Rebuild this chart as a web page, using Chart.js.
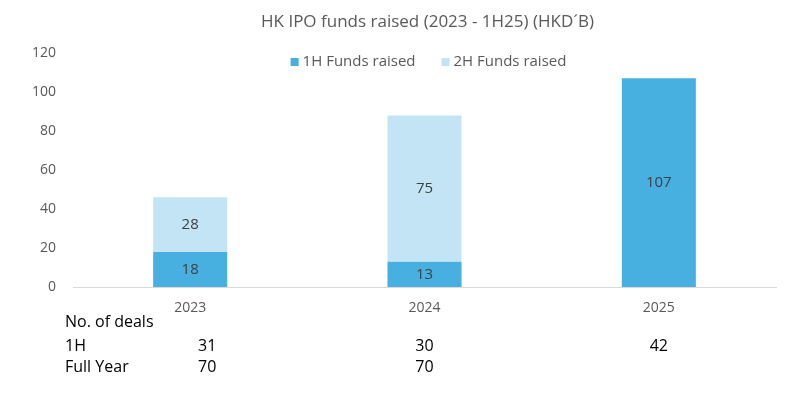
<!DOCTYPE html>
<html lang="en">
<head>
    <meta charset="UTF-8">
    <title>HK IPO funds raised</title>
    <script src="https://cdn.jsdelivr.net/npm/chart.js"></script>
    <style>
        body { margin: 0; background: #fff; }
        #wrap { width: 812px; height: 395px; position: relative; }
    </style>
</head>
<body>
    <div id="wrap"><canvas id="ipoChart"></canvas></div>

    <script>
        // data
        const years = ['2023', '2024', '2025'];
        const firstHalf = [18, 13, 107];
        const secondHalf = [28, 75, null];
        const seriesNames = ['1H Funds raised', '2H Funds raised'];
        const seriesColors = ['#47B0E0', '#C2E4F5'];
        const dealRows = ['No. of deals', '1H', 'Full Year'];
        const deals1H = [31, 30, 42];
        const dealsFullYear = [70, 70, null];
        const chartTitle = 'HK IPO funds raised (2023 - 1H25) (HKD´B)';

        const font = "'Open Sans', Roboto, sans-serif";

        // title + legend sit over the plot, like in the excel chart
        const header = {
            id: 'header',
            afterDraw(chart) {
                const ctx = chart.ctx;
                const area = chart.chartArea;
                const mid = (area.left + area.right) / 2;
                ctx.save();
                ctx.textBaseline = 'middle';
                ctx.textAlign = 'center';
                ctx.fillStyle = '#595959';
                ctx.font = '17px ' + font;
                ctx.fillText(chartTitle, mid + 3, 22);

                ctx.font = '15px ' + font;
                ctx.textAlign = 'left';
                const box = 8, gap = 4, spacing = 26;
                const widths = seriesNames.map(n => ctx.measureText(n).width);
                const total = widths.reduce((a, w) => a + box + gap + w, 0) + spacing;
                let x = mid + 4 - total / 2;
                seriesNames.forEach((n, i) => {
                    ctx.fillStyle = seriesColors[i];
                    ctx.fillRect(x, 58, box, box);
                    ctx.fillStyle = '#595959';
                    ctx.fillText(n, x + box + gap, 62);
                    x += box + gap + widths[i] + spacing;
                });
                ctx.restore();
            }
        };

        // numbers inside the bar segments
        const segmentLabels = {
            id: 'segmentLabels',
            afterDatasetsDraw(chart) {
                const ctx = chart.ctx;
                ctx.save();
                ctx.font = '15px ' + font;
                ctx.fillStyle = '#404040';
                ctx.textAlign = 'center';
                ctx.textBaseline = 'middle';
                chart.data.datasets.forEach((ds, i) => {
                    chart.getDatasetMeta(i).data.forEach((bar, j) => {
                        if (ds.data[j] == null) return;
                        const p = bar.getProps(['x', 'y', 'base'], true);
                        ctx.fillText(ds.data[j], p.x, (p.y + p.base) / 2);
                    });
                });
                ctx.restore();
            }
        };

        // deal counts table under the axis
        const dealsTable = {
            id: 'dealsTable',
            afterDraw(chart) {
                const ctx = chart.ctx;
                const x = chart.scales.x;
                const baselines = [327, 351, 372];
                ctx.save();
                ctx.font = '16px ' + font;
                ctx.fillStyle = '#000';
                ctx.textBaseline = 'alphabetic';
                ctx.textAlign = 'left';
                dealRows.forEach((r, i) => ctx.fillText(r, 65, baselines[i]));
                ctx.textAlign = 'center';
                [deals1H, dealsFullYear].forEach((row, k) => {
                    row.forEach((v, j) => {
                        if (v == null) return;
                        // first column sits a bit right of the bar in the original
                        const shift = j === 0 ? 17 : 0;
                        ctx.fillText(v, x.getPixelForValue(j) + shift, baselines[k + 1]);
                    });
                });
                ctx.restore();
            }
        };

        const ctx = document.getElementById('ipoChart').getContext('2d');
        new Chart(ctx, {
            type: 'bar',
            data: {
                labels: years,
                datasets: [{
                    label: seriesNames[0],
                    data: firstHalf,
                    backgroundColor: seriesColors[0],
                    barPercentage: 0.316,
                    categoryPercentage: 1
                }, {
                    label: seriesNames[1],
                    data: secondHalf,
                    backgroundColor: seriesColors[1],
                    barPercentage: 0.316,
                    categoryPercentage: 1
                }]
            },
            options: {
                responsive: true,
                maintainAspectRatio: false,
                animation: false,
                layout: { padding: { left: 15, right: 36, top: 53, bottom: 78 } },
                plugins: {
                    legend: { display: false },
                    title: { display: false },
                    tooltip: { enabled: false }
                },
                scales: {
                    x: {
                        stacked: true,
                        grid: { display: false, drawTicks: false },
                        border: { color: '#D9D9D9' },
                        afterFit(scale) { scale.height = 30; },
                        ticks: {
                            color: '#595959',
                            font: { family: font, size: 14 },
                            padding: 13
                        }
                    },
                    y: {
                        stacked: true,
                        min: 0,
                        max: 120,
                        grid: { display: false, drawTicks: false },
                        border: { display: false },
                        ticks: {
                            stepSize: 20,
                            color: '#595959',
                            font: { family: font, size: 14 },
                            padding: 17
                        }
                    }
                }
            },
            plugins: [segmentLabels, header, dealsTable]
        });
    </script>
</body>
</html>
